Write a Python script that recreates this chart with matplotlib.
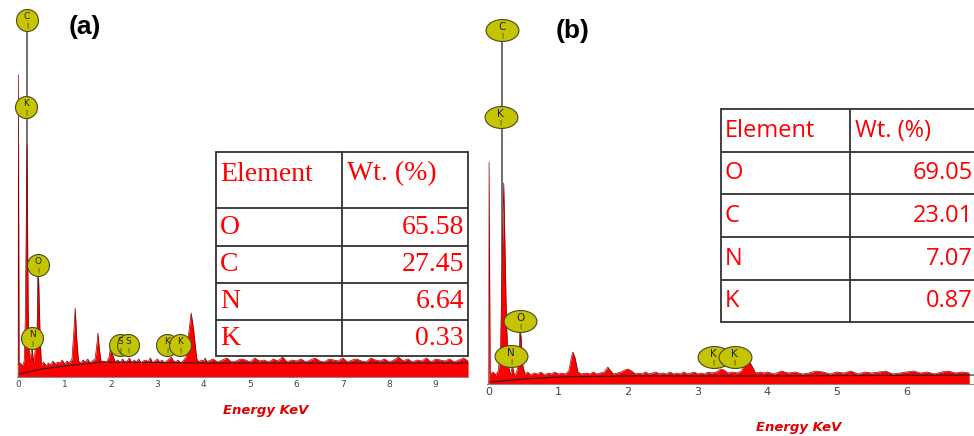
import matplotlib
matplotlib.use('Agg')
import matplotlib.pyplot as plt
import numpy as np
from matplotlib.path import Path
from matplotlib.transforms import Affine2D
from matplotlib.patches import Rectangle

# ---- spectrum (a): (energy keV, counts)
spec_a_peaks = [(0.00, 0), (0.005, 302), (0.02, 12), (0.05, 14), (0.09, 11), (0.13, 16),
                (0.155, 60), (0.19, 232), (0.215, 70), (0.24, 18), (0.27, 22), (0.30, 30),
                (0.33, 14), (0.36, 24), (0.40, 40), (0.44, 100), (0.47, 45), (0.50, 12),
                (0.55, 15), (0.60, 11), (0.65, 14), (0.70, 12), (0.75, 16), (0.80, 13),
                (0.85, 15), (0.90, 14), (0.95, 17), (1.00, 13), (1.05, 16), (1.10, 14),
                (1.16, 18), (1.20, 45), (1.23, 69), (1.26, 40), (1.30, 16), (1.35, 14),
                (1.40, 17), (1.45, 15), (1.50, 18), (1.55, 14), (1.60, 16), (1.66, 18),
                (1.70, 34), (1.72, 44), (1.75, 28), (1.79, 15), (1.85, 16), (1.90, 14),
                (1.96, 20), (2.00, 32), (2.04, 22), (2.09, 15), (2.15, 17), (2.20, 14),
                (2.25, 18), (2.30, 15), (2.35, 16), (2.40, 19), (2.45, 14), (2.50, 17),
                (2.55, 15), (2.60, 18), (2.65, 14), (2.70, 16), (2.75, 17), (2.80, 15),
                (2.85, 19), (2.90, 14), (2.95, 16), (3.00, 18), (3.05, 15), (3.10, 17),
                (3.15, 14), (3.20, 16), (3.25, 18), (3.30, 20), (3.35, 16), (3.40, 15),
                (3.45, 17), (3.50, 14), (3.55, 16), (3.62, 20), (3.68, 45), (3.73, 64),
                (3.78, 48), (3.85, 18), (3.90, 15), (3.95, 17), (4.00, 16), (4.03, 19),
                (4.07, 15)]
bg_a_counts = [16, 18, 15, 17, 19, 15, 16, 18, 17, 15, 19, 16, 17, 15, 18, 16, 20, 15, 17,
               16, 18, 15, 17, 19, 16, 15, 18, 17, 16, 19, 15, 17, 18, 16, 15, 19, 17, 16,
               18, 15, 17, 20, 16, 18, 15, 17, 16, 19, 15, 18, 17, 16, 18, 15, 17, 19, 16]
cont_a = [(0.02, 3), (0.5, 8), (1.0, 11), (1.8, 15), (4.0, 14), (9.7, 14)]

# ---- spectrum (b)
spec_b_peaks = [(0.00, 0), (0.005, 222), (0.02, 10), (0.06, 12), (0.10, 9), (0.14, 14),
                (0.17, 40), (0.215, 201), (0.235, 130), (0.255, 60), (0.28, 20), (0.31, 9),
                (0.34, 18), (0.37, 8), (0.40, 12), (0.43, 22), (0.46, 51), (0.49, 18),
                (0.52, 10), (0.56, 12), (0.60, 9), (0.65, 11), (0.70, 10), (0.75, 12),
                (0.80, 9), (0.85, 11), (0.90, 10), (0.95, 12), (1.00, 10), (1.05, 11),
                (1.10, 10), (1.15, 13), (1.19, 28), (1.21, 32), (1.24, 26), (1.28, 12),
                (1.33, 10), (1.40, 11), (1.45, 10), (1.50, 12), (1.55, 10), (1.60, 11),
                (1.66, 12), (1.71, 17), (1.74, 14), (1.79, 10), (1.85, 11), (1.90, 12),
                (1.95, 14), (2.00, 15), (2.05, 13), (2.11, 10), (2.15, 11), (2.20, 10),
                (2.25, 12), (2.30, 10), (2.35, 11), (2.40, 12), (2.45, 10), (2.50, 11),
                (2.55, 10), (2.60, 12), (2.65, 10), (2.70, 11), (2.75, 10), (2.80, 12),
                (2.85, 10), (2.90, 11), (2.95, 12), (3.00, 10), (3.05, 11), (3.10, 10),
                (3.15, 12), (3.20, 11), (3.27, 12), (3.33, 15), (3.38, 14), (3.43, 11),
                (3.50, 12), (3.57, 11), (3.63, 13), (3.69, 22), (3.73, 24), (3.78, 18),
                (3.83, 11), (3.90, 12), (3.95, 11)]
bg_b_counts = [12, 10, 13, 11, 12, 10, 11, 13, 12, 10, 12, 11, 13, 10, 12, 11, 12, 13, 10,
               11, 12, 13, 11, 12, 10, 12, 13, 11, 12, 11]
cont_b = [(0.02, 2), (0.5, 5), (1.0, 7), (2.0, 8), (4.0, 8), (6.97, 9)]

# element markers: (label, energy, height)
marks_a = [('C', 0.19, 357), ('K', 0.17, 270), ('O', 0.43, 112), ('N', 0.30, 39),
           ('S', 2.20, 32), ('S', 2.37, 32), ('K', 3.21, 32), ('K', 3.49, 32)]
marks_b = [('C', 0.19, 354), ('K', 0.17, 267), ('O', 0.45, 63), ('N', 0.32, 28),
           ('K', 3.23, 27), ('K', 3.53, 27)]

# tables
elements = ['O', 'C', 'N', 'K']
wt_a = ['65.58', '27.45', '6.64', '0.33']
wt_b = ['69.05', '23.01', '7.07', '0.87']

W, H = 974, 436
fig = plt.figure(figsize=(W / 100, H / 100), dpi=100)

RED = '#ff0000'
circle = Path.unit_circle()
ellipse = circle.transformed(Affine2D().scale(1.5, 1.0))


def spectrum(ax, peaks, bg_start, bg_counts, cont, marks, marker, msize, xmax, ymax,
             tick_fs, lab_fs):
    e = [p[0] for p in peaks] + list(np.round(bg_start + 0.1 * np.arange(len(bg_counts)), 2))
    c = [p[1] for p in peaks] + bg_counts
    ax.fill_between(e, 0, c, color=RED, lw=0, zorder=2)
    ax.plot(e, c, color='#8a0000', lw=0.5, zorder=3)
    ax.plot([p[0] for p in cont], [p[1] for p in cont], color='#222222', lw=0.8, zorder=4)
    # stems for C and O lines
    for lab, x, y in marks:
        if lab in ('C', 'O'):
            ax.plot([x, x], [0, y], color='#555555', lw=1.2, zorder=1)
    for lab, x, y in marks:
        ax.scatter([x], [y], s=msize, marker=marker, facecolor='#c4c400',
                   edgecolor='#4a4a20', lw=0.8, zorder=5, clip_on=False)
        ax.annotate(lab, (x, y), xytext=(0, 2.5), textcoords='offset points',
                    ha='center', va='center', fontsize=lab_fs, color='#222222', zorder=6)
        ax.annotate('|', (x, y), xytext=(0, -4), textcoords='offset points',
                    ha='center', va='center', fontsize=4.5, color='#222222', zorder=6)
    ax.set_xlim(-0.025, xmax)
    ax.set_ylim(0, ymax)
    ax.set_yticks([])
    ax.set_xticks(range(0, int(xmax) + 1))
    ax.tick_params(axis='x', length=0, pad=2, labelsize=tick_fs, labelcolor='#444444')
    for s in ('top', 'right', 'left'):
        ax.spines[s].set_visible(False)
    ax.spines['bottom'].set_color('#888888')
    ax.spines['bottom'].set_linewidth(0.8)
    ax.patch.set_alpha(0)


# panel (a): x=0 at px 18, 46.4 px/keV, baseline at px 377
ax_a = fig.add_axes([17 / W, (H - 377) / H, 451 / W, 377 / H])
spectrum(ax_a, spec_a_peaks, 4.1, bg_a_counts, cont_a, marks_a, 'o', 250,
         (468 - 18) / 46.4, 377, 6.5, 6.5)

# panel (b): x=0 at px 489, 69.6 px/keV, baseline at px 384
ax_b = fig.add_axes([487 / W, (H - 384) / H, (W - 487) / W, 384 / H])
spectrum(ax_b, spec_b_peaks, 4.0, bg_b_counts, cont_b, marks_b, ellipse, 560,
         (974 - 489) / 69.6, 384, 8, 7.5)

# overlay in pixel coords for tables and labels
ov = fig.add_axes([0, 0, 1, 1])
ov.set_xlim(0, W)
ov.set_ylim(H, 0)
ov.axis('off')


def table(x0, xs, x1, rows_y, vals, font, fs, head_dy, num_right, close_right):
    ov.add_patch(Rectangle((x0, rows_y[0]), x1 - x0, rows_y[-1] - rows_y[0],
                           facecolor='white', edgecolor='none', zorder=1))
    lc = '#333333'
    for y in rows_y:
        ov.plot([x0, x1], [y, y], color=lc, lw=1.3, zorder=2, solid_capstyle='butt')
    xs_list = [x0, xs] + ([x1] if close_right else [])
    for x in xs_list:
        ov.plot([x, x], [rows_y[0], rows_y[-1]], color=lc, lw=1.3, zorder=2)
    ov.text(x0 + 4, rows_y[0] + head_dy, 'Element', color=RED, family=font,
            fontsize=fs, va='center', ha='left', zorder=3)
    ov.text(xs + 5, rows_y[0] + head_dy, 'Wt. (%)', color=RED, family=font,
            fontsize=fs, va='center', ha='left', zorder=3)
    for i, (el, v) in enumerate(zip(elements, vals)):
        yc = (rows_y[i + 1] + rows_y[i + 2]) / 2
        ov.text(x0 + 4, yc, el, color=RED, family=font, fontsize=fs,
                va='center', ha='left', zorder=3)
        ov.text(num_right, yc, v, color=RED, family=font, fontsize=fs,
                va='center', ha='right', zorder=3)


table(216, 342, 468, [152, 208, 246, 283, 320, 356], wt_a, 'Liberation Serif', 20,
      22, 464, True)
table(721, 850, 976, [109, 152, 194, 237, 280, 322], wt_b, 'Open Sans', 17,
      22, 973, False)

ov.text(85, 27, '(a)', fontsize=19, fontweight='bold', family='Liberation Sans',
        ha='center', va='center')
ov.text(573, 31, '(b)', fontsize=19, fontweight='bold', family='Liberation Sans',
        ha='center', va='center')

ov.text(266, 410, 'Energy KeV', color='#e00000', fontsize=9.5, fontweight='bold',
        style='italic', family='DejaVu Sans', ha='center', va='center')
ov.text(799, 427, 'Energy KeV', color='#e00000', fontsize=9.5, fontweight='bold',
        style='italic', family='DejaVu Sans', ha='center', va='center')

fig.savefig('out.png', dpi=100)
